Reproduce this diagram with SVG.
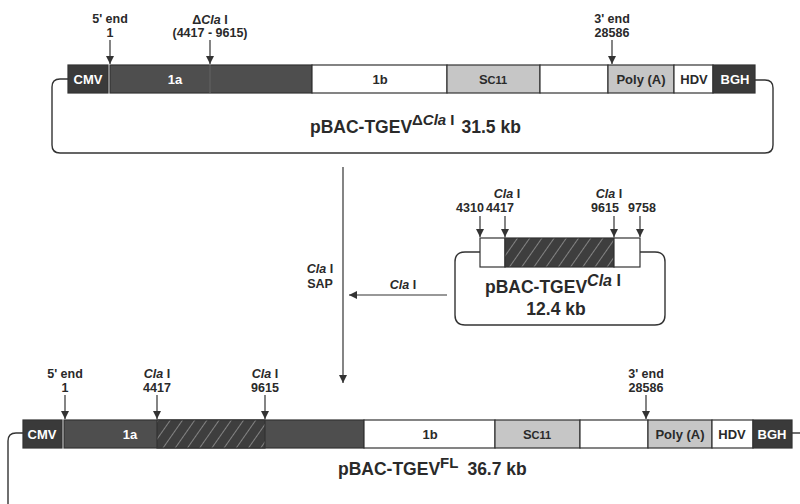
<svg xmlns="http://www.w3.org/2000/svg" width="800" height="504" viewBox="0 0 800 504">
<defs>
<marker id="ah" markerWidth="8" markerHeight="9" refX="8" refY="4.5" orient="auto" markerUnits="userSpaceOnUse">
<path d="M0,0.5 L8,4.5 L0,8.5 Z" fill="#333"/>
</marker>
<pattern id="hatch" width="10" height="10" patternUnits="userSpaceOnUse" patternTransform="rotate(35)">
<rect width="10" height="10" fill="#3e3e3e"/>
<line x1="0" y1="0" x2="0" y2="10" stroke="#c8c8c8" stroke-width="1"/>
</pattern>
</defs>
<style>
text{font-family:"Liberation Sans",Arial,sans-serif;font-weight:bold;fill:#2a2a2a}
.lab{font-size:12.5px;text-anchor:middle}
.it{font-style:italic}
.seg{stroke:#333;stroke-width:1.2}
.dk{fill:#3a3a3a}
.md{fill:#4e4e4e}
.lt{fill:#c6c6c6}
.wh{fill:#fff}
.wt{fill:#fff;font-size:13px;text-anchor:middle}
.bt{font-size:13px;text-anchor:middle}
.loop{fill:none;stroke:#333;stroke-width:1.4}
.arr{stroke:#333;stroke-width:1.2;fill:none;marker-end:url(#ah)}
.title{font-size:17.5px}
</style>
<rect width="800" height="504" fill="#fff"/>

<g id="connectors">
<line class="arr" x1="343" y1="167" x2="343" y2="383"/>
<line class="arr" x1="447" y1="295" x2="349" y2="295"/>
</g>

<g id="plasmid-top">
<path class="loop" d="M68,79 H60 Q52,79 52,87 V145 Q52,153 60,153 H765 Q773,153 773,145 V88 Q773,80 765,80 H755"/>
<rect class="seg dk" x="68" y="65" width="40" height="28"/>
<rect class="seg md" x="110" y="65" width="202" height="28"/>
<line x1="210" y1="65" x2="210" y2="93" stroke="#5c5c5c" stroke-width="1.5"/>
<rect class="seg wh" x="312" y="65" width="135" height="28"/>
<rect class="seg lt" x="447" y="65" width="93" height="28"/>
<rect class="seg wh" x="540" y="65" width="68" height="28"/>
<rect class="seg lt" x="608" y="65" width="66" height="28"/>
<rect class="seg wh" x="674" y="65" width="39" height="28"/>
<rect class="seg dk" x="713" y="65" width="42" height="28"/>
<text class="wt" x="88" y="84" font-size="12">CMV</text>
<text class="wt" x="175" y="84">1a</text>
<text class="bt" x="380" y="84">1b</text>
<text class="bt" x="493" y="84">S<tspan font-size="11">C11</tspan></text>
<text class="bt" x="641" y="84">Poly (A)</text>
<text class="bt" x="694" y="84">HDV</text>
<text class="wt" x="735" y="84">BGH</text>
<text class="lab" x="110" y="23">5' end</text>
<text class="lab" x="110" y="37">1</text>
<line class="arr" x1="110" y1="40" x2="110" y2="64"/>
<text class="lab" x="210" y="24">Δ<tspan class="it">Cla</tspan> I</text>
<text class="lab" x="210" y="37">(4417 - 9615)</text>
<line class="arr" x1="210" y1="40" x2="210" y2="64"/>
<text class="lab" x="612" y="23">3' end</text>
<text class="lab" x="612" y="37">28586</text>
<line class="arr" x1="612" y1="40" x2="612" y2="64"/>
<text class="title" x="310" y="133">pBAC-TGEV<tspan font-size="15" dy="-8">Δ<tspan class="it">Cla</tspan> I</tspan><tspan dy="8" dx="7">31.5 kb</tspan></text>
</g>

<g id="plasmid-clai">
<path class="loop" d="M480,252 H465 Q455,252 455,262 V315 Q455,325 465,325 H655 Q665,325 665,315 V262 Q665,252 655,252 H640"/>
<rect class="seg wh" x="480" y="238" width="25" height="29"/>
<rect class="seg" x="505" y="238" width="109" height="29" fill="url(#hatch)"/>
<rect class="seg wh" x="614" y="238" width="26" height="29"/>
<text class="lab" x="470" y="212">4310</text>
<text class="lab it" x="507" y="198">Cla<tspan font-style="normal"> I</tspan></text>
<text class="lab" x="500" y="212">4417</text>
<text class="lab it" x="609" y="198">Cla<tspan font-style="normal"> I</tspan></text>
<text class="lab" x="605" y="212">9615</text>
<text class="lab" x="642" y="212">9758</text>
<line class="arr" x1="480" y1="216" x2="480" y2="237"/>
<line class="arr" x1="505" y1="216" x2="505" y2="237"/>
<line class="arr" x1="614" y1="216" x2="614" y2="237"/>
<line class="arr" x1="640" y1="216" x2="640" y2="237"/>
<text class="title" x="485" y="293">pBAC-TGEV<tspan font-size="16" dy="-7"><tspan class="it">Cla</tspan> I</tspan></text>
<text class="title" x="556" y="315" text-anchor="middle">12.4 kb</text>
</g>

<g id="labels-mid">
<text class="lab it" x="320" y="273">Cla<tspan font-style="normal"> I</tspan></text>
<text class="lab" x="320" y="288">SAP</text>
<text class="lab it" x="403" y="289">Cla<tspan font-style="normal"> I</tspan></text>
</g>

<g id="plasmid-fl">
<path class="loop" d="M23,433 H16 Q8,433 8,441 V504"/>
<line class="loop" x1="792" y1="433" x2="800" y2="433"/>
<rect class="seg dk" x="23" y="420" width="39" height="28"/>
<rect class="seg md" x="64" y="420" width="300" height="28"/>
<rect class="seg" x="157" y="420" width="108" height="28" fill="url(#hatch)"/>
<rect class="seg wh" x="364" y="420" width="131" height="28"/>
<rect class="seg lt" x="495" y="420" width="85" height="28"/>
<rect class="seg wh" x="580" y="420" width="68" height="28"/>
<rect class="seg lt" x="648" y="420" width="64" height="28"/>
<rect class="seg wh" x="712" y="420" width="41" height="28"/>
<rect class="seg dk" x="753" y="420" width="39" height="28"/>
<text class="wt" x="42" y="439" font-size="12">CMV</text>
<text class="wt" x="130" y="439">1a</text>
<text class="bt" x="430" y="439">1b</text>
<text class="bt" x="537" y="439">S<tspan font-size="11">C11</tspan></text>
<text class="bt" x="680" y="439">Poly (A)</text>
<text class="bt" x="732" y="439">HDV</text>
<text class="wt" x="772" y="439">BGH</text>
<text class="lab" x="65" y="378">5' end</text>
<text class="lab" x="65" y="392">1</text>
<line class="arr" x1="65" y1="395" x2="65" y2="419"/>
<text class="lab it" x="157" y="378">Cla<tspan font-style="normal"> I</tspan></text>
<text class="lab" x="157" y="392">4417</text>
<line class="arr" x1="157" y1="395" x2="157" y2="419"/>
<text class="lab it" x="265" y="378">Cla<tspan font-style="normal"> I</tspan></text>
<text class="lab" x="265" y="392">9615</text>
<line class="arr" x1="265" y1="395" x2="265" y2="419"/>
<text class="lab" x="646" y="378">3' end</text>
<text class="lab" x="646" y="392">28586</text>
<line class="arr" x1="646" y1="395" x2="646" y2="419"/>
<text class="title" x="338" y="475" font-size="18.5">pBAC-TGEV<tspan font-size="15" dy="-7">FL</tspan><tspan dy="7" dx="9" font-size="17.5">36.7 kb</tspan></text>
</g>
</svg>
